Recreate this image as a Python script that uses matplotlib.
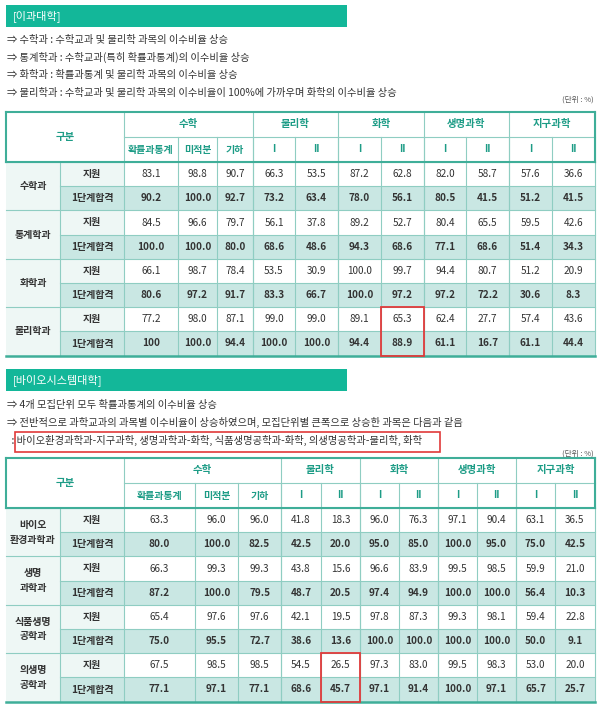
import matplotlib
matplotlib.use("Agg")
import matplotlib.pyplot as plt
from matplotlib.patches import Rectangle

plt.rcParams["font.family"] = ["Noto Sans CJK JP", "Noto Sans CJK KR", "Noto Sans CJK SC", "DejaVu Sans"]

# ---------------- data ----------------
subject_groups = ["수학", "물리학", "화학", "생명과학", "지구과학"]
group_spans = [3, 2, 2, 2, 2]
subjects = ["확률과통계", "미적분", "기하", "I", "II", "I", "II", "I", "II", "I", "II"]
row_kinds = ["지원", "1단계합격"]

t1_title = "[이과대학]"
t1_notes = ["⇒ 수학과 : 수학교과 및 물리학 과목의 이수비율 상승",
            "⇒ 통계학과 : 수학교과(특히 확률과통계)의 이수비율 상승",
            "⇒ 화학과 : 확률과통계 및 물리학 과목의 이수비율 상승",
            "⇒ 물리학과 : 수학교과 및 물리학 과목의 이수비율이 100%에 가까우며 화학의 이수비율 상승"]
t1_depts = ["수학과", "통계학과", "화학과", "물리학과"]
t1_values = [
    ["83.1", "98.8", "90.7", "66.3", "53.5", "87.2", "62.8", "82.0", "58.7", "57.6", "36.6"],
    ["90.2", "100.0", "92.7", "73.2", "63.4", "78.0", "56.1", "80.5", "41.5", "51.2", "41.5"],
    ["84.5", "96.6", "79.7", "56.1", "37.8", "89.2", "52.7", "80.4", "65.5", "59.5", "42.6"],
    ["100.0", "100.0", "80.0", "68.6", "48.6", "94.3", "68.6", "77.1", "68.6", "51.4", "34.3"],
    ["66.1", "98.7", "78.4", "53.5", "30.9", "100.0", "99.7", "94.4", "80.7", "51.2", "20.9"],
    ["80.6", "97.2", "91.7", "83.3", "66.7", "100.0", "97.2", "97.2", "72.2", "30.6", "8.3"],
    ["77.2", "98.0", "87.1", "99.0", "99.0", "89.1", "65.3", "62.4", "27.7", "57.4", "43.6"],
    ["100", "100.0", "94.4", "100.0", "100.0", "94.4", "88.9", "61.1", "16.7", "61.1", "44.4"],
]
t1_highlight = (3, 6)  # dept index, column index

t2_title = "[바이오시스템대학]"
t2_notes = ["⇒ 4개 모집단위 모두 확률과통계의 이수비율 상승",
            "⇒ 전반적으로 과학교과의 과목별 이수비율이 상승하였으며, 모집단위별 큰폭으로 상승한 과목은 다음과 같음",
            "  : 바이오환경과학과-지구과학, 생명과학과-화학, 식품생명공학과-화학, 의생명공학과-물리학, 화학"]
t2_depts = ["바이오\n환경과학과", "생명\n과학과", "식품생명\n공학과", "의생명\n공학과"]
t2_values = [
    ["63.3", "96.0", "96.0", "41.8", "18.3", "96.0", "76.3", "97.1", "90.4", "63.1", "36.5"],
    ["80.0", "100.0", "82.5", "42.5", "20.0", "95.0", "85.0", "100.0", "95.0", "75.0", "42.5"],
    ["66.3", "99.3", "99.3", "43.8", "15.6", "96.6", "83.9", "99.5", "98.5", "59.9", "21.0"],
    ["87.2", "100.0", "79.5", "48.7", "20.5", "97.4", "94.9", "100.0", "100.0", "56.4", "10.3"],
    ["65.4", "97.6", "97.6", "42.1", "19.5", "97.8", "87.3", "99.3", "98.1", "59.4", "22.8"],
    ["75.0", "95.5", "72.7", "38.6", "13.6", "100.0", "100.0", "100.0", "100.0", "50.0", "9.1"],
    ["67.5", "98.5", "98.5", "54.5", "26.5", "97.3", "83.0", "99.5", "98.3", "53.0", "20.0"],
    ["77.1", "97.1", "77.1", "68.6", "45.7", "97.1", "91.4", "100.0", "97.1", "65.7", "25.7"],
]
t2_highlight = (3, 4)

# ---------------- style ----------------
GREEN = "#13b799"
TEAL_TXT = "#1d9c86"
LINE = "#8fcdc2"
OUTER = "#3fae99"
ROW2_BG = "#c9e7e3"
SIDE_BG = "#eef7f5"
TXT = "#333333"
RED = "#e03a3a"

fig = plt.figure(figsize=(6.0, 7.07), dpi=100)
ax = fig.add_axes([0, 0, 1, 1])
ax.set_xlim(0, 600)
ax.set_ylim(707, 0)
ax.axis("off")


def section(y_title, title, notes, note_y0, red_note_box=None):
    ax.add_patch(Rectangle((6, y_title), 341, 22, color=GREEN, lw=0))
    ax.text(13, y_title + 11, title, color="white", fontsize=8, va="center")
    for i, n in enumerate(notes):
        ax.text(7, note_y0 + i * 17.7, n, color=TXT, fontsize=7.4, va="center")
    if red_note_box:
        x0, y0, x1, y1 = red_note_box
        ax.add_patch(Rectangle((x0, y0), x1 - x0, y1 - y0, fill=False, ec=RED, lw=1.2))


def table(top, col_edges, depts, values, highlight):
    h_mid = top + 25
    h_bot = top + 50
    rh = 24.2
    left, gsep, lsep, right = 6, 60, 124, 595
    nrows = len(values)
    bottom = h_bot + nrows * rh
    for r in range(nrows):
        y = h_bot + r * rh
        if r % 2 == 1:
            ax.add_patch(Rectangle((lsep, y), right - lsep, rh, color=ROW2_BG, lw=0))
            ax.add_patch(Rectangle((gsep, y), lsep - gsep, rh, color=ROW2_BG, lw=0))
        else:
            ax.add_patch(Rectangle((gsep, y), lsep - gsep, rh, color=SIDE_BG, lw=0))
    ax.add_patch(Rectangle((left, h_bot), gsep - left, bottom - h_bot, color=SIDE_BG, lw=0))
    ax.text((left + lsep) / 2, (top + h_bot) / 2, "구분", color=TEAL_TXT, fontsize=7.5,
            fontweight="bold", ha="center", va="center")
    ci = 0
    for g, span in zip(subject_groups, group_spans):
        x0, x1 = col_edges[ci], col_edges[ci + span]
        ax.text((x0 + x1) / 2, (top + h_mid) / 2, g, color=TEAL_TXT, fontsize=7.5,
                fontweight="bold", ha="center", va="center")
        ax.plot([x1, x1], [top, bottom], color=LINE, lw=0.8)
        ci += span
    for j, s in enumerate(subjects):
        xc = (col_edges[j] + col_edges[j + 1]) / 2
        ax.text(xc, (h_mid + h_bot) / 2, s, color=TEAL_TXT, fontsize=7.2,
                fontweight="bold", ha="center", va="center")
        if 0 < j:
            ax.plot([col_edges[j]] * 2, [h_mid, bottom], color=LINE, lw=0.8)
    ax.plot([lsep, right], [h_mid, h_mid], color=LINE, lw=0.8)
    ax.plot([lsep, lsep], [top, bottom], color=LINE, lw=0.8)
    ax.plot([gsep, gsep], [h_bot, bottom], color=LINE, lw=0.8)
    for r in range(nrows):
        y = h_bot + r * rh
        yc = y + rh / 2
        bold = r % 2 == 1
        ax.text((gsep + lsep) / 2, yc, row_kinds[r % 2], color=TXT, fontsize=7.2,
                fontweight="bold", ha="center", va="center")
        for j, v in enumerate(values[r]):
            xc = (col_edges[j] + col_edges[j + 1]) / 2
            ax.text(xc, yc, v, color=TXT, fontsize=7.2, ha="center", va="center",
                    fontweight="bold" if bold else "normal")
        if r % 2 == 0:
            ax.text((left + gsep) / 2, y + rh, depts[r // 2], color=TXT, fontsize=7.2,
                    fontweight="bold", ha="center", va="center", linespacing=1.6)
            ax.plot([left, right], [y, y], color=LINE, lw=0.8)
        else:
            ax.plot([gsep, right], [y, y], color=LINE, lw=0.8)
    ax.plot([left, right], [top, top], color=OUTER, lw=1.5)
    ax.plot([left, right], [h_bot, h_bot], color=OUTER, lw=1.5)
    ax.plot([left, right], [bottom, bottom], color=OUTER, lw=1.8)
    ax.plot([left, left], [top, h_bot], color=OUTER, lw=1.5)
    ax.plot([right, right], [top, h_bot], color=OUTER, lw=1.5)
    d, c = highlight
    ax.add_patch(Rectangle((col_edges[c], h_bot + 2 * d * rh), col_edges[c + 1] - col_edges[c],
                           2 * rh, fill=False, ec=RED, lw=1.3, zorder=5))


cols1 = [124, 178, 217, 253, 295, 338, 381, 424, 466, 509, 552, 595]
cols2 = [124, 195, 238, 281, 321, 360, 399, 438, 477, 516, 555, 595]

section(5, t1_title, t1_notes, 40)
ax.text(594, 100, "(단위 : %)", color="#555555", fontsize=5.5, ha="right", va="center")
table(112, cols1, t1_depts, t1_values, t1_highlight)

section(369, t2_title, t2_notes, 405, red_note_box=(15, 432, 440, 452))
ax.text(594, 454, "(단위 : %)", color="#555555", fontsize=5.5, ha="right", va="center")
table(458, cols2, t2_depts, t2_values, t2_highlight)

fig.savefig("out.png", dpi=100)
